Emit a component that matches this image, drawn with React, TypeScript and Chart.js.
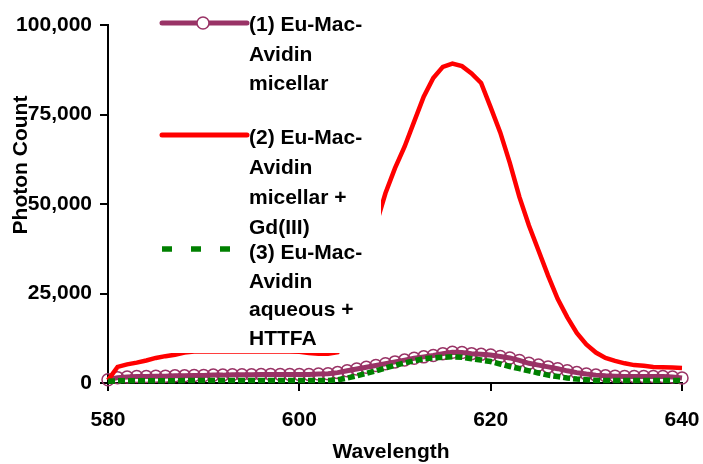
import { useEffect, useRef } from "react";
import { Chart, registerables } from "chart.js";

Chart.register(...registerables);

const wavelengths = [
  580, 581, 582, 583, 584, 585, 586, 587, 588, 589,
  590, 591, 592, 593, 594, 595, 596, 597, 598, 599,
  600, 601, 602, 603, 604, 605, 606, 607, 608, 609,
  610, 611, 612, 613, 614, 615, 616, 617, 618, 619,
  620, 621, 622, 623, 624, 625, 626, 627, 628, 629,
  630, 631, 632, 633, 634, 635, 636, 637, 638, 639, 640,
];

const micellar = [
  900, 1500, 1700, 1800, 1800, 1900, 1900, 2000, 2000, 2100,
  2100, 2200, 2200, 2300, 2300, 2300, 2400, 2400, 2400, 2400,
  2400, 2400, 2500, 2600, 2900, 3400, 3900, 4400, 4900, 5400,
  5900, 6400, 6900, 7300, 7700, 8200, 8600, 8500, 8200, 8000,
  7800, 7400, 7000, 6300, 5500, 5000, 4500, 4000, 3400, 2900,
  2500, 2200, 2000, 1900, 1800, 1800, 1800, 1800, 1800, 1700, 1400,
];

const micellarGd = [
  800, 4500, 5200, 5700, 6300, 7000, 7500, 7900, 8500, 8800,
  8800, 8800, 8800, 8800, 8800, 8800, 8800, 8800, 8800, 8800,
  8700, 8400, 8200, 8200, 8600, 13000, 22000, 33000, 44000, 53000,
  60000, 66000, 73000, 80000, 85200, 88300, 89200, 88500, 86500, 83800,
  77000, 70000, 61500, 52000, 44000, 37000, 30000, 23500, 18400, 14000,
  10800, 8500, 7000, 6200, 5500, 5000, 4800, 4500, 4400, 4300, 4200,
];

const aqueousHTTFA = [
  500, 600, 600, 600, 600, 600, 600, 600, 700, 700,
  700, 700, 700, 700, 700, 700, 700, 700, 700, 700,
  700, 700, 700, 700, 900, 1400, 2000, 2700, 3400, 4200,
  4900, 5600, 6200, 6800, 7000, 7200, 7300, 7200, 6800, 6400,
  6000, 5300, 4600, 4000, 3400, 2800, 2200, 1800, 1400, 1100,
  900, 700, 700, 700, 700, 700, 700, 700, 700, 700, 700,
];

const seriesNames = [
  ["(1) Eu-Mac-", "Avidin", "micellar"],
  ["(2) Eu-Mac-", "Avidin", "micellar +", "Gd(III)"],
  ["(3) Eu-Mac-", "Avidin", "aqueous +", "HTTFA"],
];

const xTickValues = [580, 600, 620, 640];
const yTickValues = [0, 25000, 50000, 75000, 100000];
const xTitle = "Wavelength";
const yTitle = "Photon Count";

const PURPLE = "#993366";
const RED = "#ff0000";
const GREEN = "#008000";
const FONT_FAMILY = "'Liberation Sans', Arial, sans-serif";
const FONT = `bold 21px ${FONT_FAMILY}`;

const toPoints = (values: number[]) =>
  wavelengths.map((w, i) => ({ x: w, y: values[i] }));

const overlayPlugin = {
  id: "overlay",
  afterDatasetsDraw(chart: any) {
    const ctx = chart.ctx as CanvasRenderingContext2D;
    ctx.save();
    // legend box (white, occludes data like the original)
    ctx.fillStyle = "#ffffff";
    ctx.fillRect(155, 0, 226, 353);

    const sx0 = 162;
    const sx1 = 247;
    const tx = 249;

    // item 1: purple line with circle
    ctx.strokeStyle = PURPLE;
    ctx.lineWidth = 5;
    ctx.lineCap = "round";
    ctx.beginPath();
    ctx.moveTo(sx0, 23);
    ctx.lineTo(sx1, 23);
    ctx.stroke();
    ctx.lineWidth = 1.5;
    ctx.fillStyle = "#ffffff";
    ctx.beginPath();
    ctx.arc(203, 23, 6, 0, Math.PI * 2);
    ctx.fill();
    ctx.stroke();

    // item 2: red line
    ctx.strokeStyle = RED;
    ctx.lineWidth = 5;
    ctx.beginPath();
    ctx.moveTo(sx0, 135);
    ctx.lineTo(sx1, 135);
    ctx.stroke();

    // item 3: green dashes
    ctx.lineCap = "butt";
    ctx.strokeStyle = GREEN;
    ctx.lineWidth = 5.5;
    ctx.setLineDash([10, 19]);
    ctx.beginPath();
    ctx.moveTo(sx0, 249);
    ctx.lineTo(231, 249);
    ctx.stroke();
    ctx.setLineDash([]);

    ctx.fillStyle = "#000000";
    ctx.font = FONT;
    ctx.textAlign = "left";
    ctx.textBaseline = "alphabetic";
    const starts = [31, 144, 259];
    const spacing = [29.5, 30, 28.5];
    seriesNames.forEach((lines, i) => {
      lines.forEach((t, j) => {
        ctx.fillText(t, tx, starts[i] + j * spacing[i]);
      });
    });
    ctx.restore();
  },
  afterDraw(chart: any) {
    const ctx = chart.ctx as CanvasRenderingContext2D;
    ctx.save();
    ctx.fillStyle = "#000000";
    ctx.font = FONT;
    ctx.textAlign = "center";
    ctx.textBaseline = "alphabetic";
    ctx.fillText(xTitle, 391, 458);
    ctx.translate(27, 165);
    ctx.rotate(-Math.PI / 2);
    ctx.fillText(yTitle, 0, 0);
    ctx.restore();
  },
};

export default function App() {
  const canvasRef = useRef<HTMLCanvasElement | null>(null);

  useEffect(() => {
    if (!canvasRef.current) return;
    const chart = new Chart(canvasRef.current, {
      type: "line",
      data: {
        datasets: [
          {
            label: seriesNames[0].join(" "),
            data: toPoints(micellar),
            borderColor: PURPLE,
            borderWidth: 5,
            pointStyle: "circle",
            pointRadius: 6,
            pointBorderWidth: 1.5,
            pointBorderColor: PURPLE,
            pointBackgroundColor: "rgba(0,0,0,0)",
            tension: 0,
            clip: false,
            order: 3,
          },
          {
            label: seriesNames[1].join(" "),
            data: toPoints(micellarGd),
            borderColor: RED,
            borderWidth: 4.5,
            pointRadius: 0,
            tension: 0,
            clip: false,
            order: 2,
          },
          {
            label: seriesNames[2].join(" "),
            data: toPoints(aqueousHTTFA),
            borderColor: GREEN,
            borderWidth: 5.5,
            borderDash: [7, 3],
            pointRadius: 0,
            tension: 0,
            clip: false,
            order: 1,
          },
        ],
      },
      options: {
        responsive: false,
        animation: false,
        devicePixelRatio: 1,
        layout: { padding: { left: 0, top: 25, right: 21, bottom: 0 } },
        plugins: {
          legend: { display: false },
          tooltip: { enabled: false },
        },
        scales: {
          x: {
            type: "linear",
            min: 580,
            max: 640,
            afterBuildTicks: (scale: any) => {
              scale.ticks = xTickValues.map((v) => ({ value: v }));
            },
            afterFit: (scale: any) => {
              scale.height = 81;
              scale.paddingLeft = 0;
              scale.paddingRight = 0;
            },
            border: { display: true, color: "#000", width: 2 },
            grid: {
              display: true,
              drawOnChartArea: false,
              drawTicks: true,
              tickLength: 8,
              color: "#000",
              lineWidth: 2,
            },
            ticks: {
              color: "#000",
              font: { family: FONT_FAMILY, size: 21, weight: "bold" },
              padding: 17,
              maxRotation: 0,
            },
          },
          y: {
            type: "linear",
            min: 0,
            max: 100000,
            afterBuildTicks: (scale: any) => {
              scale.ticks = yTickValues.map((v) => ({ value: v }));
            },
            afterFit: (scale: any) => {
              scale.width = 108;
              scale.paddingTop = 0;
              scale.paddingBottom = 0;
            },
            border: { display: true, color: "#000", width: 2 },
            grid: {
              display: true,
              drawOnChartArea: false,
              drawTicks: true,
              tickLength: 8,
              color: "#000",
              lineWidth: 2,
            },
            ticks: {
              color: "#000",
              font: { family: FONT_FAMILY, size: 21, weight: "bold" },
              padding: 8,
              callback: (v: any) => Number(v).toLocaleString("en-US"),
            },
          },
        },
      },
      plugins: [overlayPlugin],
    });
    return () => chart.destroy();
  }, []);

  return (
    <div
      style={{
        position: "fixed",
        left: 0,
        top: 0,
        width: 703,
        height: 464,
        background: "#fff",
      }}
    >
      <canvas ref={canvasRef} width={703} height={464} />
    </div>
  );
}
